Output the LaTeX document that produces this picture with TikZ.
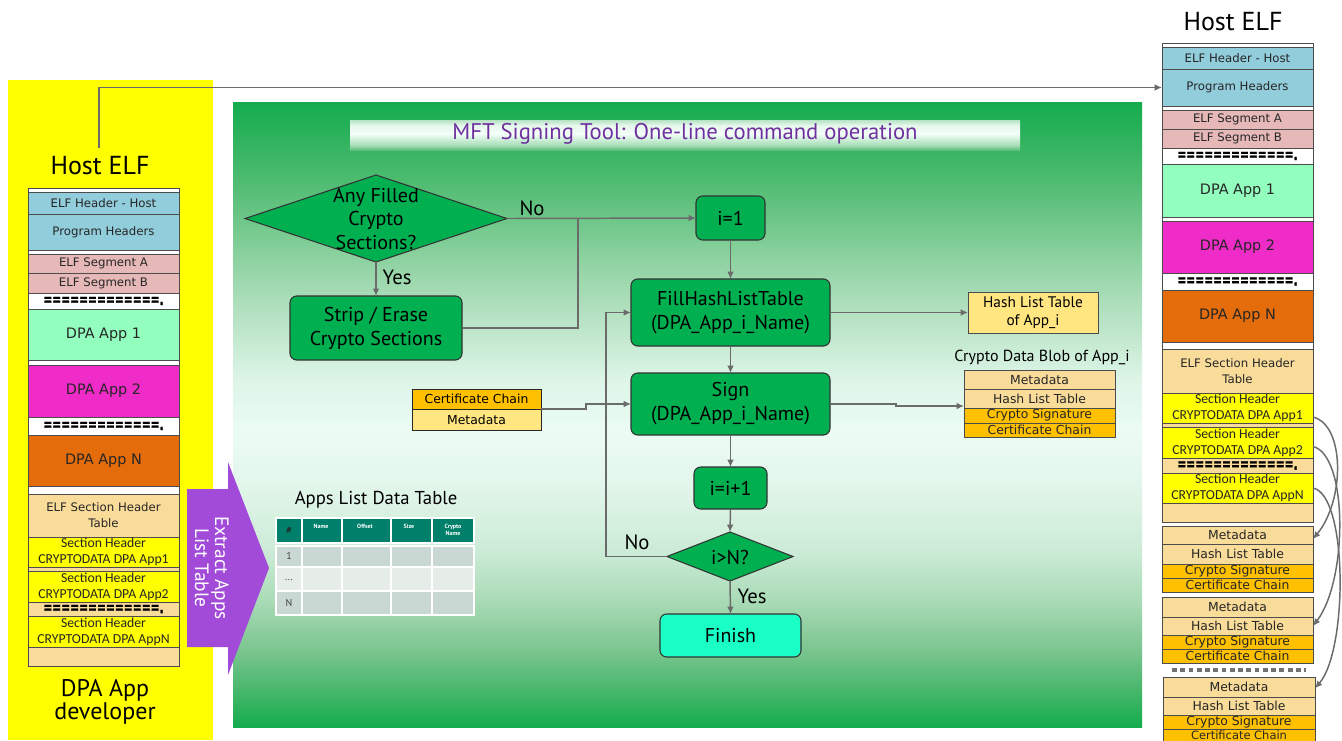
\documentclass[tikz,border=0pt]{standalone}
\usepackage{fontspec}
\setmainfont{PT Sans}
\newfontfamily\dvf{DejaVu Sans}
\newfontfamily\dotf[FakeBold=1.5]{DejaVu Sans Bold}
\newfontfamily\calf{Carlito}
\usetikzlibrary{arrows.meta,shapes.geometric}

\definecolor{lblue}{HTML}{92CDDC}
\definecolor{pinkseg}{HTML}{E6B9B8}
\definecolor{mint}{HTML}{93FFBF}
\definecolor{magen}{HTML}{F02CC8}
\definecolor{orangeN}{HTML}{E46C0A}
\definecolor{tanc}{HTML}{F9DC9A}
\definecolor{yel}{HTML}{FFFF00}
\definecolor{certc}{HTML}{FFC000}
\definecolor{lyel}{HTML}{FFE680}
\definecolor{fgreen}{HTML}{00B050}
\definecolor{aqua}{HTML}{19FFC6}
\definecolor{parrow}{HTML}{A24BD8}
\definecolor{tpurple}{HTML}{7030A0}
\definecolor{teal}{HTML}{00806B}
\definecolor{trow1}{HTML}{CAD8D3}
\definecolor{trow2}{HTML}{E6ECE7}
\definecolor{lgray}{HTML}{6B6B6B}
\definecolor{gp0}{HTML}{14AC4E}
\definecolor{gp1}{HTML}{3AB463}
\definecolor{gp2}{HTML}{7CC590}
\definecolor{gp3}{HTML}{A9DBB6}
\definecolor{gp4}{HTML}{CBEBD6}
\definecolor{gp5}{HTML}{E4F7EC}
\definecolor{gp6}{HTML}{EBFCF4}
\definecolor{gp7}{HTML}{DDF5E7}
\definecolor{gp8}{HTML}{ABDDB9}
\definecolor{gp9}{HTML}{86CF9B}
\definecolor{gp10}{HTML}{4DBB70}
\definecolor{bn0}{HTML}{5CBF7A}
\definecolor{bn1}{HTML}{A6DDB6}
\definecolor{bn2}{HTML}{F4FFF9}
\definecolor{bn3}{HTML}{E6F7EC}
\definecolor{bn4}{HTML}{B5E3C3}

\pgfdeclareverticalshading{gpanel}{100bp}{color(0bp)=(gp0); color(25bp)=(gp0); color(27.2bp)=(gp1); color(31.2bp)=(gp2); color(35.1bp)=(gp3); color(39bp)=(gp4); color(44.8bp)=(gp5); color(48.8bp)=(gp6); color(52.8bp)=(gp7); color(59.2bp)=(gp8); color(63.2bp)=(gp9); color(68.8bp)=(gp10); color(75bp)=(gp0); color(100bp)=(gp0)}
\pgfdeclareverticalshading{banner}{100bp}{color(0bp)=(bn0); color(25bp)=(bn0); color(33bp)=(bn1); color(52bp)=(bn2); color(66bp)=(bn3); color(75bp)=(bn4); color(100bp)=(bn4)}

\newcommand\bxn[6]{\node[#6,minimum width={(#4-#2)*0.75pt},minimum height={(#5-#3)*0.75pt}] (#1) at ({(#2+#4)/2},{(#3+#5)/2})}
\newcommand\dotline{\scalebox{1}[1.6]{=============.}}

\tikzset{
  rowb/.style={draw=black!70, line width=0.6pt, rectangle, inner sep=0pt, outer sep=0pt, align=center, text=black!85, font=\dvf\fontsize{8.8}{12}\selectfont},
  dveight/.style={font=\dvf\fontsize{9.3}{10}\selectfont},
  bigrow/.style={font=\dvf\fontsize{10.8}{12}\selectfont},
  shrow/.style={font=\calf\fontsize{10.3}{12}\selectfont},
  dotsrow/.style={font=\dotf\fontsize{8}{8}\selectfont, text=black},
  fbox/.style={draw=black!80, line width=0.8pt, rounded corners=5pt, fill=fgreen, inner sep=0pt, outer sep=0pt, align=center, font=\fontsize{15}{18}\selectfont},
  dmd/.style={diamond, draw=black!80, line width=0.8pt, fill=fgreen, inner sep=0pt, outer sep=0pt},
  dtext/.style={align=center, inner sep=0pt, font=\fontsize{15}{17.5}\selectfont},
  conn/.style={draw=lgray, line width=1.1pt, -{Latex[length=5.5pt,width=5pt]}},
  plainl/.style={draw=lgray, line width=1.1pt},
  lbl/.style={inner sep=0pt, font=\fontsize{15.5}{17}\selectfont},
  tcell/.style={draw=white, line width=1.2pt, rectangle, inner sep=0pt, outer sep=0pt},
  thead/.style={inner sep=0pt, align=center, text=white!85, font=\bfseries\fontsize{4.5}{5}\selectfont},
  tlab/.style={inner sep=0pt, text=black!75, font=\fontsize{7.5}{8}\selectfont},
}

\begin{document}
\begin{tikzpicture}[x=0.75pt,y=-0.75pt]
\useasboundingbox (0,0) rectangle (1342,740);
\clip (0,0) rectangle (1342,740);
\fill[white] (0,0) rectangle (1342,740);

% yellow panel
\fill[yel] (8,80) rectangle (213,740);
% green panel
\path[shading=gpanel] (233,102) rectangle (1142,727);
% banner
\path[shading=banner] (350,120) rectangle (1020,150);
\node[inner sep=0pt, text=tpurple, font=\fontsize{17}{19}\selectfont] (title) at (685,134) {MFT Signing Tool: One-line command operation};

% ---------- left Host ELF ----------
\node[inner sep=0pt, font=\fontsize{19.5}{21}\selectfont] (lhost) at (100,166) {Host ELF};
\bxn{lw0}{28}{188}{179}{192}{rowb, fill=white}{};
\bxn{leh}{28}{192}{179}{214}{rowb, fill=lblue}{ELF Header - Host};
\bxn{lph}{28}{214}{179}{250}{rowb, fill=lblue}{Program Headers};
\bxn{lw1}{28}{250}{179}{254}{rowb, fill=white}{};
\bxn{lsa}{28}{254}{179}{273}{rowb, fill=pinkseg}{ELF Segment A};
\bxn{lsb}{28}{273}{179}{293}{rowb, fill=pinkseg}{ELF Segment B};
\bxn{ld1}{28}{293}{179}{309}{rowb, fill=white, dotsrow}{\dotline};
\bxn{la1}{28}{309}{179}{360}{rowb, fill=mint, bigrow}{DPA App 1};
\bxn{lw2}{28}{360}{179}{365}{rowb, fill=white}{};
\bxn{la2}{28}{365}{179}{417}{rowb, fill=magen, bigrow}{DPA App 2};
\bxn{ld2}{28}{417}{179}{435}{rowb, fill=white, dotsrow}{\dotline};
\bxn{lan}{28}{435}{179}{486}{rowb, fill=orangeN, bigrow}{DPA App N};
\bxn{lw3}{28}{486}{179}{494}{rowb, fill=white}{};
\bxn{lsht}{28}{494}{179}{537}{rowb, fill=tanc}{ELF Section Header\\Table};
\bxn{ls1}{28}{537}{179}{567}{rowb, fill=yel, shrow}{Section Header\\CRYPTODATA DPA App1};
\bxn{lt1}{28}{567}{179}{571}{rowb, fill=tanc}{};
\bxn{ls2}{28}{571}{179}{602}{rowb, fill=yel, shrow}{Section Header\\CRYPTODATA DPA App2};
\bxn{ld3}{28}{602}{179}{616}{rowb, fill=tanc, dotsrow}{\dotline};
\bxn{lsn}{28}{616}{179}{647}{rowb, fill=yel, shrow}{Section Header\\CRYPTODATA DPA AppN};
\bxn{lt2}{28}{647}{179}{666}{rowb, fill=tanc}{};
\node[inner sep=0pt, align=center, font=\fontsize{18}{17.5}\selectfont] (dev) at (105,702) {DPA App\\developer};

% ---------- purple arrow ----------
\path[fill=parrow] (187,489) -- (228,489) -- (228,462) -- (269,568) -- (228,675) -- (228,647) -- (187,647) -- cycle;
\node[rotate=-90, inner sep=0pt, text=white, align=center, font=\fontsize{14.5}{15}\selectfont] (extract) at (212,568) {Extract Apps\\List Table};

% ---------- Apps list table ----------
\node[inner sep=0pt, font=\fontsize{14}{15}\selectfont] (apt) at (376,500) {Apps List Data Table};
\bxn{th1}{276}{518}{302}{543}{tcell, fill=teal}{};
\bxn{th2}{302}{518}{342}{543}{tcell, fill=teal}{};
\bxn{th3}{342}{518}{391}{543}{tcell, fill=teal}{};
\bxn{th4}{391}{518}{432}{543}{tcell, fill=teal}{};
\bxn{th5}{432}{518}{474}{543}{tcell, fill=teal}{};
\foreach \ya/\yb/\cc/\nm in {546/567/trow1/a, 567/591/trow2/b, 591/615/trow1/c}{
  \bxn{t\nm1}{276}{\ya}{302}{\yb}{tcell, fill=\cc}{};
  \bxn{t\nm2}{302}{\ya}{342}{\yb}{tcell, fill=\cc}{};
  \bxn{t\nm3}{342}{\ya}{391}{\yb}{tcell, fill=\cc}{};
  \bxn{t\nm4}{391}{\ya}{432}{\yb}{tcell, fill=\cc}{};
  \bxn{t\nm5}{432}{\ya}{474}{\yb}{tcell, fill=\cc}{};
}
\node[inner sep=0pt, text=black!85, font=\bfseries\fontsize{7}{8}\selectfont] (hh) at (289,530) {\#};
\node[thead] (hn) at (321,526) {Name};
\node[thead] (ho) at (365,526) {Offset};
\node[thead] (hs) at (409,526) {Size};
\node[thead] (hc) at (453,530) {Crypto\\Name};
\node[tlab] (r1) at (289,556) {1};
\node[tlab] (r2) at (289,580) {...};
\node[tlab] (r3) at (289,603) {N};

% ---------- flowchart ----------
\node[dmd, minimum width=196.5pt, minimum height=65.25pt] (d1) at (376,218.5) {};
\node[dtext] (d1t) at (376,219) {Any Filled\\Crypto\\Sections?};
\bxn{strip}{290}{296}{462}{360}{fbox}{Strip / Erase\\Crypto Sections};
\bxn{i1}{696}{196}{765}{240}{fbox}{i=1};
\bxn{fill}{631}{279}{830}{346}{fbox}{FillHashListTable\\(DPA\_App\_i\_Name)};
\bxn{sign}{631}{373}{830}{435}{fbox}{Sign\\(DPA\_App\_i\_Name)};
\bxn{inc}{694}{467}{767}{509}{fbox}{i=i+1};
\node[dmd, minimum width=94.5pt, minimum height=36.75pt] (d2) at (730,556.5) {};
\node[dtext] (d2t) at (730,557) {i>N?};
\bxn{fin}{660}{614}{801}{657}{fbox, fill=aqua}{Finish};

\bxn{hlt}{968}{292}{1098}{333}{rowb, fill=lyel, text=black, font=\fontsize{11.5}{13.5}\selectfont}{Hash List Table\\of App\_i};
\bxn{cert}{412}{389}{541}{409}{rowb, draw=black!85, fill=certc, text=black, dveight}{Certificate Chain};
\bxn{meta}{412}{409}{541}{430}{rowb, draw=black!85, fill=lyel, text=black, dveight}{Metadata};

\node[inner sep=0pt, font=\fontsize{12}{13}\selectfont] (cdb) at (1042,357) {Crypto Data Blob of App\_i};
\bxn{bm}{964}{370}{1115}{389}{rowb, fill=tanc, dveight}{Metadata};
\bxn{bh}{964}{389}{1115}{408}{rowb, fill=tanc, dveight}{Hash List Table};
\bxn{bs}{964}{408}{1115}{423}{rowb, fill=certc, dveight}{Crypto Signature};
\bxn{bc}{964}{423}{1115}{437}{rowb, fill=certc, dveight}{Certificate Chain};

\coordinate (j1) at (578,218.5);
\coordinate (blobin) at (964,406);
\draw[conn] (d1.east) -- (i1.west);
\draw[plainl] (strip.east) -| (j1);
\draw[conn] (d1.south) -- (strip.north);
\draw[conn] (i1.south) -- (fill.north);
\draw[conn] (fill.east) -- (hlt.west);
\draw[conn] (fill.south) -- (sign.north);
\draw[conn] (cert.south east) -- ++(45,0) |- (sign.west);
\draw[conn] (sign.east) -- ++(66,0) |- (blobin);
\draw[conn] (sign.south) -- (inc.north);
\draw[conn] (inc.south) -- (d2.north);
\draw[conn] (d2.south) -- (fin.north);
\draw[conn] (d2.west) -- ++(-61,0) |- (fill.west);
\node[lbl] (lno1) at (532,208) {No};
\node[lbl] (lyes1) at (397,277) {Yes};
\node[lbl] (lno2) at (637,542) {No};
\node[lbl] (lyes2) at (752,596) {Yes};

% ---------- right Host ELF ----------
\node[inner sep=0pt, font=\fontsize{19.5}{21}\selectfont] (rhost) at (1233,22) {Host ELF};
\bxn{rw0}{1162}{43}{1313}{47}{rowb, fill=white}{};
\bxn{reh}{1162}{47}{1313}{69}{rowb, fill=lblue}{ELF Header - Host};
\bxn{rph}{1162}{69}{1313}{106}{rowb, fill=lblue}{Program Headers};
\bxn{rw1}{1162}{106}{1313}{110}{rowb, fill=white}{};
\bxn{rsa}{1162}{110}{1313}{129}{rowb, fill=pinkseg}{ELF Segment A};
\bxn{rsb}{1162}{129}{1313}{148}{rowb, fill=pinkseg}{ELF Segment B};
\bxn{rd1}{1162}{148}{1313}{164}{rowb, fill=white, dotsrow}{\dotline};
\bxn{ra1}{1162}{164}{1313}{217}{rowb, fill=mint, bigrow}{DPA App 1};
\bxn{rw2}{1162}{217}{1313}{221}{rowb, fill=white}{};
\bxn{ra2}{1162}{221}{1313}{273}{rowb, fill=magen, bigrow}{DPA App 2};
\bxn{rd2}{1162}{273}{1313}{290}{rowb, fill=white, dotsrow}{\dotline};
\bxn{ran}{1162}{290}{1313}{342}{rowb, fill=orangeN, bigrow}{DPA App N};
\bxn{rw3}{1162}{342}{1313}{349}{rowb, fill=white}{};
\bxn{rsht}{1162}{349}{1313}{393}{rowb, fill=tanc}{ELF Section Header\\Table};
\bxn{rs1}{1162}{393}{1313}{423}{rowb, fill=yel, shrow}{Section Header\\CRYPTODATA DPA App1};
\bxn{rt1}{1162}{423}{1313}{427}{rowb, fill=tanc}{};
\bxn{rs2}{1162}{427}{1313}{458}{rowb, fill=yel, shrow}{Section Header\\CRYPTODATA DPA App2};
\bxn{rd3}{1162}{458}{1313}{473}{rowb, fill=tanc, dotsrow}{\dotline};
\bxn{rsn}{1162}{473}{1313}{503}{rowb, fill=yel, shrow}{Section Header\\CRYPTODATA DPA AppN};
\bxn{rt2}{1162}{503}{1313}{522}{rowb, fill=tanc}{};

\bxn{b1m}{1162}{526}{1313}{544}{rowb, fill=tanc, dveight}{Metadata};
\bxn{b1h}{1162}{544}{1313}{564}{rowb, fill=tanc, dveight}{Hash List Table};
\bxn{b1s}{1162}{564}{1313}{578}{rowb, fill=certc, dveight}{Crypto Signature};
\bxn{b1c}{1162}{578}{1313}{592}{rowb, fill=certc, dveight}{Certificate Chain};
\bxn{b2m}{1162}{597}{1313}{617}{rowb, fill=tanc, dveight}{Metadata};
\bxn{b2h}{1162}{617}{1313}{635}{rowb, fill=tanc, dveight}{Hash List Table};
\bxn{b2s}{1162}{635}{1313}{649}{rowb, fill=certc, dveight}{Crypto Signature};
\bxn{b2c}{1162}{649}{1313}{663}{rowb, fill=certc, dveight}{Certificate Chain};
\draw[draw=black!55, line width=3pt, dash pattern=on 3.6pt off 2.6pt] (1172,670) -- (1306,670);
\bxn{b3m}{1163}{677}{1315}{697}{rowb, fill=tanc, dveight}{Metadata};
\bxn{b3h}{1163}{697}{1315}{715}{rowb, fill=tanc, dveight}{Hash List Table};
\bxn{b3s}{1163}{715}{1315}{729}{rowb, fill=certc, dveight}{Crypto Signature};
\bxn{b3c}{1163}{729}{1315}{741}{rowb, fill=certc, font=\dvf\fontsize{8.6}{9}\selectfont}{Certificate Chain};

% long connector
\coordinate (hstart) at (99,148);
\draw[conn] (hstart) |- (rph.west);

% curved connectors
\draw[conn] ([yshift=-6.75pt]rs1.east) .. controls (1345,425) and (1345,500) .. ([yshift=-3pt]b1m.east);
\draw[conn] ([yshift=-3pt]rs2.east) .. controls (1348,455) and (1348,580) .. (b2h.east);
\draw[conn] (rsn.east) .. controls (1348,495) and (1348,650) .. ([yshift=-1pt]b3m.east);
\end{tikzpicture}
\end{document}
